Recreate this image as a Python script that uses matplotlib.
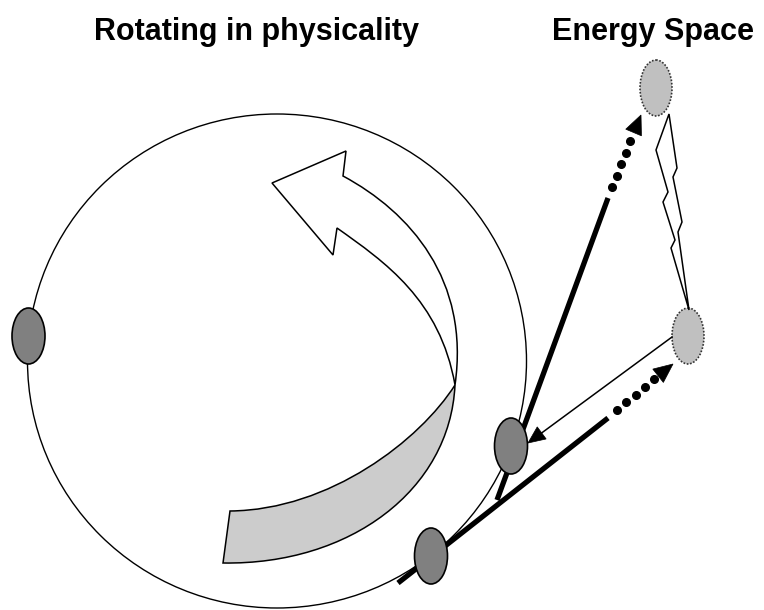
import numpy as np
import matplotlib
matplotlib.use('Agg')
import matplotlib.pyplot as plt
from matplotlib.patches import Ellipse, PathPatch, Polygon
from matplotlib.path import Path

# ------------------------------------------------------------
# Geometry (pixel coordinates, y pointing down)
# ------------------------------------------------------------
TITLES = ["Rotating in physicality", "Energy Space"]
TITLE_X = [256, 653]
TITLE_Y = 32

CIRCLE_CENTER = (277, 361)
CIRCLE_SIZE = (499, 494)

# dark bodies sitting on the circle
BODY_CENTERS = [(28.5, 336), (511, 446), (431, 556)]
BODY_SIZE = (33, 56)

# light bodies in energy space
ENERGY_CENTERS = [(656, 88), (688, 336)]
ENERGY_SIZE = (32, 56)

# tangent lines (thick) and their dotted continuations
THICK_LINES = [((497, 500), (608, 198)), ((398, 583), (608, 418))]
DOT_STARTS = [(612, 187), (617, 410)]
DOT_ENDS = [(630, 141), (654, 379)]
ARROW_TIPS = [(641, 115), (673, 364)]

# return arrow (thin)
RETURN_START = (672, 337)
RETURN_TIP = (528, 443)

# lightning bolt between energy bodies
BOLT = [(669, 114), (677, 168), (673, 177), (682, 222), (678, 232), (689, 310),
        (671, 248), (675, 240), (663, 202), (668, 192), (656, 150)]

# curved ribbon arrow
HEAD = [(343, 176), (346, 151), (272, 183), (333, 255), (337, 228)]
CROSS = (455, 385)
OUTER_CTRL = [(410, 212), (470, 280)]
INNER_CTRL = [(385, 262), (440, 300)]
UPPER_CTRL = [(420, 440), (330, 510)]
UPPER_END = (230, 511)
LOWER_CTRL = [(450, 490), (350, 565)]
LOWER_END = (223, 563)


def arrow_head(tip, back, length, width):
    tip = np.array(tip, float)
    d = tip - np.array(back, float)
    d /= np.linalg.norm(d)
    n = np.array([-d[1], d[0]])
    base = tip - d * length
    return [tip, base + n * width / 2, base - n * width / 2]


fig = plt.figure(figsize=(7.64, 6.10), dpi=100)
ax = fig.add_axes([0, 0, 1, 1])
ax.set_xlim(0, 764)
ax.set_ylim(610, 0)
ax.axis('off')

# big circle
ax.add_patch(Ellipse(CIRCLE_CENTER, *CIRCLE_SIZE, facecolor='none',
                     edgecolor='black', lw=1.0, zorder=1))

# ribbon arrow: gray lower part
gray_verts = [CROSS, UPPER_CTRL[0], UPPER_CTRL[1], UPPER_END, LOWER_END,
              LOWER_CTRL[1], LOWER_CTRL[0], CROSS, CROSS]
gray_codes = [Path.MOVETO, Path.CURVE4, Path.CURVE4, Path.CURVE4, Path.LINETO,
              Path.CURVE4, Path.CURVE4, Path.CURVE4, Path.CLOSEPOLY]
ax.add_patch(PathPatch(Path(gray_verts, gray_codes), facecolor='#cccccc',
                       edgecolor='black', lw=1.1, zorder=2))

# ribbon arrow: white upper part with head
white_verts = [HEAD[0], OUTER_CTRL[0], OUTER_CTRL[1], CROSS,
               INNER_CTRL[1], INNER_CTRL[0], HEAD[4],
               HEAD[3], HEAD[2], HEAD[1], HEAD[0]]
white_codes = [Path.MOVETO, Path.CURVE4, Path.CURVE4, Path.CURVE4,
               Path.CURVE4, Path.CURVE4, Path.CURVE4,
               Path.LINETO, Path.LINETO, Path.LINETO, Path.CLOSEPOLY]
ax.add_patch(PathPatch(Path(white_verts, white_codes), facecolor='white',
                       edgecolor='black', lw=1.1, zorder=3))

# thick tangent lines
for (p0, p1) in THICK_LINES:
    ax.plot([p0[0], p1[0]], [p0[1], p1[1]], color='black', lw=3.8,
            solid_capstyle='butt', zorder=4)

# dotted continuations with arrow heads
for s, e, tip in zip(DOT_STARTS, DOT_ENDS, ARROW_TIPS):
    xs = np.linspace(s[0], e[0], 5)
    ys = np.linspace(s[1], e[1], 5)
    ax.plot(xs, ys, 'o', color='black', ms=5.5, zorder=4)
    ax.add_patch(Polygon(arrow_head(tip, e, 19, 17), closed=True,
                         facecolor='black', edgecolor='black', lw=0.5, zorder=4))

# dark bodies
for c in BODY_CENTERS:
    ax.add_patch(Ellipse(c, *BODY_SIZE, facecolor='#808080', edgecolor='black',
                         lw=1.2, zorder=5))

# return arrow
head = arrow_head(RETURN_TIP, RETURN_START, 17, 15)
base_mid = (head[1] + head[2]) / 2
ax.plot([RETURN_START[0], base_mid[0]], [RETURN_START[1], base_mid[1]],
        color='black', lw=1.1, zorder=6)
ax.add_patch(Polygon(head, closed=True, facecolor='black', edgecolor='black',
                     lw=0.5, zorder=6))

# energy bodies
for c in ENERGY_CENTERS:
    ax.add_patch(Ellipse(c, *ENERGY_SIZE, facecolor='#c0c0c0', edgecolor='#333333',
                         lw=1.2, linestyle=(0, (1, 1)), zorder=5))

# lightning bolt
ax.add_patch(Polygon(BOLT, closed=True, facecolor='white', edgecolor='black',
                     lw=1.1, joinstyle='miter', zorder=6))

# titles
for t, x in zip(TITLES, TITLE_X):
    ax.text(x, TITLE_Y, t, ha='center', va='center', fontsize=22,
            fontweight='bold', family='Liberation Sans')

fig.savefig('out.png', dpi=100)
